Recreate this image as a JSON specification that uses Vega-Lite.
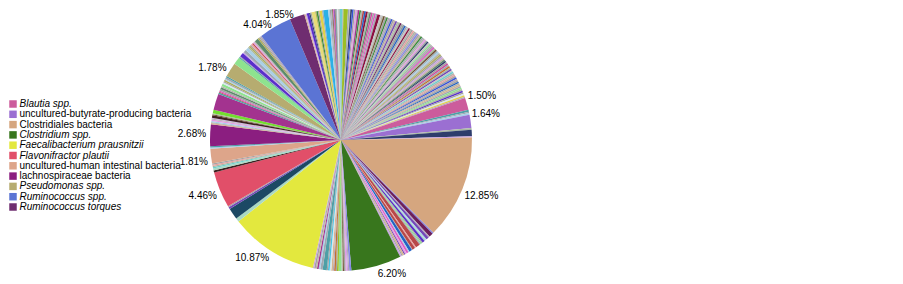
{
  "$schema": "https://vega.github.io/schema/vega-lite/v6.json",
  "width": 262,
  "height": 262,
  "autosize": {"type": "none"},
  "padding": {"left": 210, "top": 9, "right": 431, "bottom": 13},
  "background": "#ffffff",
  "config": {"view": {"stroke": null}},
  "data": {"values": [
    {"n":"b10","v":0.2},{"n":"a1","v":0.1},{"n":"b3","v":0.55},{"n":"a3","v":0.2},{"n":"a2","v":0.1},{"n":"b22","v":0.2},{"n":"b1","v":0.2},{"n":"a1","v":0.2},{"n":"b13","v":0.2},{"n":"a4","v":0.1},
    {"n":"b28","v":0.2},{"n":"b8","v":0.2},{"n":"a2","v":0.2},{"n":"b14","v":0.2},{"n":"b15","v":0.2},{"n":"b5","v":0.25},{"n":"a5","v":0.2},{"n":"b30","v":0.2},{"n":"b6","v":0.2},{"n":"a1","v":0.2},
    {"n":"b18","v":0.2},{"n":"a3","v":0.2},{"n":"b5","v":0.35},{"n":"a8","v":0.2},{"n":"a2","v":0.2},{"n":"b21","v":0.2},{"n":"a1","v":0.2},{"n":"b8","v":0.2},{"n":"a4","v":0.2},{"n":"a3","v":0.2},
    {"n":"b1","v":0.2},{"n":"a1","v":0.2},{"n":"a6","v":0.2},{"n":"b25","v":0.2},{"n":"a2","v":0.2},{"n":"a5","v":0.2},{"n":"b27","v":0.2},{"n":"a1","v":0.2},{"n":"a7","v":0.2},{"n":"b15","v":0.2},
    {"n":"a3","v":0.2},{"n":"a8","v":0.2},{"n":"b5","v":0.2},{"n":"a2","v":0.2},{"n":"a1","v":0.2},{"n":"b32","v":0.2},{"n":"a5","v":0.2},{"n":"a4","v":0.2},{"n":"b26","v":0.2},{"n":"a1","v":0.2},
    {"n":"a6","v":0.2},{"n":"b8","v":0.2},{"n":"a3","v":0.2},{"n":"a2","v":0.2},{"n":"b13","v":0.2},{"n":"a1","v":0.2},{"n":"b22","v":0.2},{"n":"a8","v":0.2},{"n":"b9","v":0.2},{"n":"a4","v":0.2},
    {"n":"a1","v":0.2},{"n":"b18","v":0.2},{"n":"a5","v":0.2},{"n":"b21","v":0.2},{"n":"a3","v":0.2},{"n":"b33","v":0.2},{"n":"a2","v":0.2},{"n":"b34","v":0.2},{"n":"a1","v":0.2},{"n":"b24","v":0.2},
    {"n":"a6","v":0.2},{"n":"b30","v":0.2},{"n":"b22","v":0.2},{"n":"a1","v":0.2},{"n":"b6","v":0.2},{"n":"a3","v":0.2},{"n":"b19","v":0.2},{"n":"a5","v":0.2},{"n":"b25","v":0.2},{"n":"a8","v":0.2},
    {"n":"b10","v":0.2},{"n":"a2","v":0.2},{"n":"b32","v":0.2},{"n":"a1","v":0.2},{"n":"b1","v":0.2},{"n":"a4","v":0.2},{"n":"a1","v":0.2},{"n":"b15","v":0.2},{"n":"a2","v":0.2},{"n":"b31","v":0.2},
    {"n":"a3","v":0.2},{"n":"b9","v":0.2},{"n":"a5","v":0.2},{"n":"b7","v":0.2},{"n":"a1","v":0.2},{"n":"b35","v":0.2},{"n":"b29","v":0.2},{"n":"a4","v":0.15},
    {"n":"Blautia spp.","v":1.5},
    {"n":"b23","v":0.25},{"n":"a3","v":0.15},{"n":"b33","v":0.2},
    {"n":"uncultured-butyrate-producing bacteria","v":1.64},
    {"n":"a5","v":0.2},{"n":"b22","v":0.8},{"n":"b24","v":0.15},
    {"n":"Clostridiales bacteria","v":12.85},
    {"n":"b26","v":0.15},{"n":"b27","v":0.5},{"n":"a4","v":0.15},{"n":"b25","v":0.35},{"n":"b33","v":0.15},{"n":"b17","v":0.15},{"n":"b7","v":0.3},{"n":"a1","v":0.15},{"n":"b9","v":0.15},{"n":"a3","v":0.15},
    {"n":"b14","v":0.55},{"n":"b32","v":0.15},{"n":"b14","v":0.35},{"n":"a1","v":0.1},{"n":"b15","v":0.35},{"n":"b33","v":0.15},{"n":"b18","v":0.25},{"n":"b13","v":0.2},{"n":"b25","v":0.15},{"n":"b31","v":0.2},
    {"n":"a1","v":0.15},{"n":"b24","v":0.2},
    {"n":"Clostridium spp.","v":6.2},
    {"n":"b26","v":0.25},{"n":"a4","v":0.15},{"n":"b24","v":0.15},{"n":"b13","v":0.15},{"n":"a1","v":0.2},{"n":"b21","v":0.15},{"n":"a2","v":0.15},{"n":"b9","v":0.35},{"n":"b3","v":0.2},{"n":"a1","v":0.15},
    {"n":"b19","v":0.2},{"n":"a4","v":0.15},{"n":"b31","v":0.2},{"n":"b35","v":0.2},{"n":"b20","v":0.2},{"n":"a1","v":0.15},{"n":"b23","v":0.5},{"n":"a3","v":0.3},{"n":"b33","v":0.2},{"n":"b28","v":0.2},
    {"n":"a6","v":0.15},{"n":"a1","v":0.2},{"n":"b24","v":0.15},
    {"n":"Faecalibacterium prausnitzii","v":10.87},
    {"n":"b17","v":0.45},{"n":"b16","v":1.4},{"n":"b25","v":0.25},{"n":"a1","v":0.15},
    {"n":"Flavonifractor plautii","v":4.46},
    {"n":"b11","v":0.25},{"n":"b17","v":0.25},{"n":"b10","v":0.15},{"n":"a5","v":0.15},{"n":"b32","v":0.15},{"n":"a1","v":0.15},
    {"n":"uncultured-human intestinal bacteria","v":1.81},
    {"n":"b33","v":0.15},{"n":"b23","v":0.15},
    {"n":"lachnospiraceae bacteria","v":2.68},
    {"n":"b31","v":0.15},{"n":"a1","v":0.1},{"n":"b33","v":0.15},{"n":"b13","v":0.2},{"n":"a2","v":0.1},{"n":"b24","v":0.1},{"n":"b11","v":0.3},{"n":"b21","v":0.15},{"n":"a5","v":0.1},{"n":"b12","v":0.45},
    {"n":"b28","v":2.0},
    {"n":"b23","v":0.2},{"n":"b14","v":0.1},{"n":"b18","v":0.15},{"n":"a1","v":0.2},{"n":"b30","v":0.25},{"n":"a2","v":0.15},{"n":"b9","v":0.3},{"n":"b35","v":0.2},{"n":"a1","v":0.15},{"n":"b34","v":0.2},
    {"n":"b33","v":0.15},{"n":"a3","v":0.2},{"n":"b23","v":0.15},
    {"n":"Pseudomonas spp.","v":1.78},
    {"n":"b9","v":0.9},{"n":"b23","v":0.15},{"n":"a1","v":0.1},{"n":"b7","v":0.5},{"n":"b24","v":0.15},{"n":"a3","v":0.35},{"n":"b33","v":0.4},{"n":"a5","v":0.15},{"n":"b34","v":0.2},{"n":"a1","v":0.15},
    {"n":"b32","v":0.2},{"n":"b14","v":0.15},{"n":"b13","v":0.15},{"n":"a2","v":0.15},{"n":"b30","v":0.45},{"n":"b34","v":0.2},{"n":"a1","v":0.15},{"n":"a4","v":0.2},
    {"n":"Ruminococcus spp.","v":4.04},
    {"n":"Ruminococcus torques","v":1.85},
    {"n":"b31","v":0.15},{"n":"b24","v":0.15},{"n":"b7","v":0.3},{"n":"b22","v":0.15},{"n":"a1","v":0.15},{"n":"b4","v":0.45},{"n":"b34","v":0.15},{"n":"b8","v":0.2},{"n":"a1","v":0.15},{"n":"b29","v":0.35},
    {"n":"a3","v":0.15},{"n":"b2","v":0.6},{"n":"b33","v":0.2},{"n":"a1","v":0.15},{"n":"a3","v":0.15},{"n":"b21","v":0.1},{"n":"b18","v":0.1},{"n":"b25","v":0.1},{"n":"b14","v":0.1},{"n":"b23","v":0.1},
    {"n":"a1","v":0.1},{"n":"b35","v":0.15},{"n":"a2","v":0.17},{"n":"b10","v":0.15}
  ]},
  "transform": [
    {"window": [{"op": "row_number", "as": "i"}]},
    {"window": [{"op": "sum", "field": "v", "as": "cum"}], "sort": [{"field": "i"}], "frame": [null, 0]},
    {"joinaggregate": [{"op": "sum", "field": "v", "as": "tot"}]},
    {"calculate": "(datum.cum - datum.v / 2) / datum.tot", "as": "mid"},
    {"calculate": "length(datum.n) > 3 ? format(datum.v, '.2f') + '%' : ''", "as": "lbl"}
  ],
  "encoding": {
    "theta": {"field": "v", "type": "quantitative", "stack": true},
    "order": {"field": "i", "type": "quantitative"}
  },
  "layer": [
    {
      "mark": {"type": "arc", "outerRadius": 131, "stroke": null},
      "encoding": {
        "color": {
          "field": "n",
          "type": "nominal",
          "scale": {
            "domain": ["Blautia spp.","uncultured-butyrate-producing bacteria","Clostridiales bacteria","Clostridium spp.","Faecalibacterium prausnitzii","Flavonifractor plautii","uncultured-human intestinal bacteria","lachnospiraceae bacteria","Pseudomonas spp.","Ruminococcus spp.","Ruminococcus torques",
              "a1","a2","a3","a4","a5","a6","a7","a8",
              "b1","b2","b3","b4","b5","b6","b7","b8","b9","b10","b11","b12","b13","b14","b15","b16","b17","b18","b19","b20","b21","b22","b23","b24","b25","b26","b27","b28","b29","b30","b31","b32","b33","b34","b35"],
            "range": ["#cc5c9c","#9b6fd2","#d5a67f","#38761d","#e3e83e","#e14f69","#dda58a","#8b1e80","#b6ac70","#5b74d4","#6f2d70",
              "#a3a3a3","#b4b4ac","#9fa9b3","#b3a6b6","#a9b8a2","#c3b2a5","#8f9a9f","#c4c4c4",
              "#3653d8","#2cb0e6","#9cbe24","#e6dc78","#8b1040","#cf4f9f","#5a2fcb","#3a8c3a","#8ee38e","#6ccfcf","#3c2020","#73dd2f","#e49de4","#b84848","#2462c4","#1c4964","#a9d9c3","#e05cc4","#c36f30","#45c3e3","#70502e","#2e3d6c","#4d9fa6","#c9a2e3","#7348b8","#8589e6","#6b1f5c","#a3338f","#e2d048","#5d8a6c","#d6b48f","#e8a0a0","#a8cfe8","#b0ad5a","#d9e6ec"]
          },
          "legend": {
            "title": null,
            "orient": "none",
            "legendX": -202,
            "legendY": 90,
            "padding": 0,
            "values": ["Blautia spp.","uncultured-butyrate-producing bacteria","Clostridiales bacteria","Clostridium spp.","Faecalibacterium prausnitzii","Flavonifractor plautii","uncultured-human intestinal bacteria","lachnospiraceae bacteria","Pseudomonas spp.","Ruminococcus spp.","Ruminococcus torques"],
            "symbolType": "square",
            "symbolSize": 56,
            "symbolStrokeWidth": 0,
            "labelFont": "Liberation Sans",
            "labelFontSize": 10,
            "labelColor": "#000000",
            "labelFontStyle": {"expr": "indexof(['uncultured-butyrate-producing bacteria','Clostridiales bacteria','uncultured-human intestinal bacteria','lachnospiraceae bacteria'], datum.value) < 0 ? 'italic' : 'normal'"},
            "labelOffset": 1.5,
            "labelLimit": 400,
            "rowPadding": 0.3
          }
        }
      }
    },
    {
      "transform": [{"calculate": "datum.mid < 0.25 ? datum.lbl : ''", "as": "t"}],
      "mark": {"type": "text", "radius": 132, "font": "Liberation Sans", "fontSize": 10, "color": "#000000", "align": "left", "baseline": "bottom", "dy": -2.5},
      "encoding": {"text": {"field": "t", "type": "nominal"}}
    },
    {
      "transform": [{"calculate": "datum.mid >= 0.25 && datum.mid < 0.5 ? datum.lbl : ''", "as": "t"}],
      "mark": {"type": "text", "radius": 132, "font": "Liberation Sans", "fontSize": 10, "color": "#000000", "align": "left", "baseline": "top", "dx": 1, "dy": 1.5},
      "encoding": {"text": {"field": "t", "type": "nominal"}}
    },
    {
      "transform": [{"calculate": "datum.mid >= 0.5 && datum.mid < 0.75 ? datum.lbl : ''", "as": "t"}],
      "mark": {"type": "text", "radius": 132, "font": "Liberation Sans", "fontSize": 10, "color": "#000000", "align": "right", "baseline": "top", "dx": -2, "dy": 0.5},
      "encoding": {"text": {"field": "t", "type": "nominal"}}
    },
    {
      "transform": [{"calculate": "datum.mid >= 0.75 ? datum.lbl : ''", "as": "t"}],
      "mark": {"type": "text", "radius": 132, "font": "Liberation Sans", "fontSize": 10, "color": "#000000", "align": "right", "baseline": "bottom", "dx": -3, "dy": 4},
      "encoding": {"text": {"field": "t", "type": "nominal"}}
    }
  ]
}
